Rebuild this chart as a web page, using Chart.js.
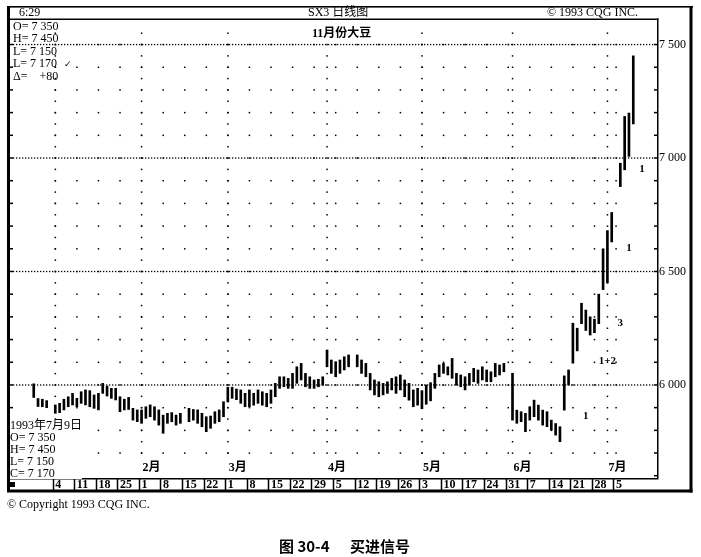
<!DOCTYPE html>
<html><head><meta charset="utf-8">
<script src="https://cdn.jsdelivr.net/npm/chart.js@4.4.1/dist/chart.umd.min.js"></script>
<style>
body{margin:0;background:#fff;}
#wrap{position:relative;width:701px;height:557px;overflow:hidden;font-family:"Liberation Serif","Noto Sans CJK SC",serif;color:#000;}
#c{position:absolute;left:0;top:0;width:701px;height:557px;}
.t{position:absolute;white-space:pre;font-size:12px;line-height:12px;}
.b{font-weight:bold;}
.cap{position:absolute;top:537px;font-family:"Noto Sans CJK SC",sans-serif;font-weight:bold;font-size:15px;line-height:18px;white-space:pre;}
.wb{background:#fff;}
.ann{position:absolute;transform:translate(-50%,-50%);font-size:11px;font-weight:bold;line-height:11px;white-space:pre;}
.mon{position:absolute;font-size:12px;line-height:12px;font-weight:bold;white-space:pre;}
</style></head>
<body><div id="wrap">
<canvas id="c" width="701" height="557"></canvas>
<div class="t" style="left:19px;top:6px">6:29</div>
<div class="t" style="left:308px;top:6px">SX3 日线图</div>
<div class="t" style="left:547px;top:6px">© 1993 CQG INC.</div>
<div class="t b" style="left:312px;top:27px">11月份大豆</div>
<div class="t" style="left:13px;top:20px">O= 7 350</div>
<div class="t" style="left:13px;top:32px">H= 7 450</div>
<div class="t" style="left:13px;top:45px">L= 7 150</div>
<div class="t" style="left:13px;top:57px">L= 7 170</div>
<div class="t" style="left:64px;top:58px;font-size:9px;font-family:'DejaVu Sans'">✓</div>
<div class="t" style="left:13px;top:70px">Δ=    +80</div>
<div id="binfo" class="t wb" style="left:10px;top:419px;line-height:12px">1993年7月9日
O= 7 350
H= 7 450
L= 7 150
C= 7 170</div>
<div class="t" style="left:7px;top:498px">© Copyright 1993 CQG INC.</div>
<div class="cap" style="left:279px">图 30-4</div>
<div class="cap" style="left:350px">买进信号</div>
</div>
<script>
// ---- data ----
const weekStarts = ['1992-12-21','1992-12-28','1993-01-04','1993-01-11','1993-01-18','1993-01-25',
  '1993-02-01','1993-02-08','1993-02-15','1993-02-22','1993-03-01','1993-03-08','1993-03-15',
  '1993-03-22','1993-03-29','1993-04-05','1993-04-12','1993-04-19','1993-04-26','1993-05-03',
  '1993-05-10','1993-05-17','1993-05-24','1993-05-31','1993-06-07','1993-06-14','1993-06-21',
  '1993-06-28','1993-07-05','1993-07-12'];
const weekLabels = ['','','4','11','18','25','1','8','15','22','1','8','15','22','29',
  '5','12','19','26','3','10','17','24','31','7','14','21','28','5',''];
const monthLabels = ['1月','2月','3月','4月','5月','6月','7月'];
const monthStarts = ['1993-01-04','1993-02-01','1993-03-01','1993-04-01','1993-05-03','1993-06-01','1993-07-01'];
const highs = [
  null,null,null,null,null,6005,5940,5937,5931,null,
  5912,5919,5937,5948,5963,5941,5970,5978,5975,5956,
  5963,6007,5995,5985,5985,5948,5937,5945,5897,5890,
  5890,5904,5912,5904,5890,5867,5875,5878,5867,5875,
  null,5897,5892,5890,5875,5860,5863,5882,5890,5926,
  5990,5990,5982,5978,5963,5978,5963,5978,5970,5963,
  5978,6007,6036,6036,6029,6051,6080,6095,6051,6036,
  6022,6025,6036,6154,6110,6102,6110,6124,6132,null,
  6132,6110,6095,6051,6022,6014,6007,6014,6029,6036,
  6044,6022,6007,5978,5985,5975,6000,6010,6051,6088,
  6095,6080,6117,6051,6044,6036,6051,6073,6066,6080,
  6066,6058,6095,6088,6095,null,6051,5889,5882,5875,
  5904,5933,5911,5889,5882,5845,5830,5816,6040,6066,
  6272,6250,6360,6330,6300,6290,6400,6600,6680,6760,
  null,6977,7183,7198,7450,null,null,null,null,null];
const lows = [
  null,null,null,null,null,5945,5905,5904,5900,null,
  5875,5878,5890,5904,5912,5904,5919,5912,5904,5897,
  5890,5963,5951,5941,5934,5882,5890,5892,5845,5838,
  5831,5853,5860,5845,5823,5787,5831,5838,5823,5831,
  null,5838,5845,5831,5816,5794,5809,5831,5838,5860,
  5925,5941,5935,5919,5904,5904,5911,5919,5911,5904,
  5919,5948,5985,5992,5985,5985,6007,6022,5992,5985,
  5985,5992,5999,6080,6051,6036,6051,6066,6080,null,
  6080,6051,6036,5978,5956,5948,5956,5963,5978,5963,
  5978,5948,5933,5904,5911,5895,5915,5930,5985,6036,
  6051,6044,6029,5999,5992,5978,5999,6014,6007,6022,
  6014,6014,6036,6044,6058,null,5845,5831,5838,5794,
  5845,5860,5845,5823,5816,5801,5779,5750,5889,6000,
  6096,6150,6270,6240,6220,6230,6270,6420,6450,6630,
  null,6874,6948,7007,7150,null,null,null,null,null];
const majorLevels = [6000, 6500, 7000, 7500];
const signalText = ['1','1+2','3','1','1'];
const signalDate = ['1993-06-24','1993-07-01','1993-07-06','1993-07-08','1993-07-13'];
const signalPrice = [5868, 6110, 6278, 6609, 6957];

// ---- build categories ----
function addDays(s, n){ const d = new Date(s + 'T12:00:00Z'); d.setUTCDate(d.getUTCDate() + n); return d.toISOString().slice(0,10); }
const days = [], dayTick = [];
weekStarts.forEach((w, wi) => { for (let k = 0; k < 5; k++) { days.push(addDays(w, k)); dayTick.push(k === 0 ? weekLabels[wi] : ''); } });
const monthIdx = monthStarts.map(d => days.indexOf(d));
const barData = days.map((d, i) => (highs[i] == null ? null : [lows[i], highs[i]]));

const fmt = v => String(v).replace(/(\d)(\d{3})$/, '$1 $2');

const decor = {
  id: 'decor',
  beforeDatasetsDraw(chart) {
    const {ctx, chartArea: a, scales: {x, y}} = chart;
    ctx.save();
    ctx.fillStyle = '#000';
    // dotted major lines
    majorLevels.forEach(v => {
      const py = y.getPixelForValue(v);
      for (let px = a.left + 3; px < a.right - 2; px += 3) ctx.fillRect(px, py - 0.6, 1.3, 1.3);
    });
    const levels = y.ticks.map(t => t.value).filter(v => v >= 5700 && v <= 7500);
    // weekly dot columns
    days.forEach((d, i) => {
      if (dayTick[i] === '') return;
      const px = x.getPixelForValue(i);
      levels.forEach(v => ctx.fillRect(px - 0.7, y.getPixelForValue(v) - 0.7, 1.5, 1.5));
    });
    // month columns (half levels too)
    monthIdx.forEach(i => {
      const px = x.getPixelForValue(i);
      levels.forEach(v => {
        ctx.fillRect(px - 0.7, y.getPixelForValue(v) - 0.7, 1.5, 1.5);
        if (v + 50 <= 7550) ctx.fillRect(px - 0.7, y.getPixelForValue(v + 50) - 0.7, 1.5, 1.5);
      });
    });
    // small ticks on left/right borders
    y.ticks.forEach(t => {
      if (t.value > 7550) return;
      const py = y.getPixelForValue(t.value);
      ctx.fillRect(a.left, py - 0.75, 3, 1.5);
      ctx.fillRect(a.right - 3, py - 0.75, 3, 1.5);
    });
    ctx.restore();
  },
  afterDraw(chart) {
    const {ctx, chartArea: a} = chart;
    ctx.save();
    ctx.fillStyle = '#000';
    ctx.fillRect(7, 6, 686, 1.6);            // outer top
    ctx.fillRect(7, 6, 3, 486);              // left thick
    ctx.fillRect(689.5, 6, 3, 486.5);        // outer right
    ctx.fillRect(7, 489.5, 685.5, 3);        // outer bottom
    ctx.fillRect(7, a.top - 1.5, a.right - 7 + 1.5, 1.5);  // header bottom / plot top
    ctx.fillRect(a.right, a.top - 1.5, 1.5, a.bottom - a.top + 1.5); // plot right
    ctx.fillRect(7, a.bottom, a.right - 7 + 1.5, 1.5);     // plot bottom
    ctx.fillRect(10, 482, 5, 5);             // square marker
    ctx.restore();
  }
};

const chart = new Chart(document.getElementById('c'), {
  type: 'bar',
  data: {
    labels: days,
    datasets: [{ data: barData, backgroundColor: '#000', borderWidth: 0, barThickness: 2 }]
  },
  options: {
    responsive: false,
    devicePixelRatio: 1,
    animation: false,
    events: [],
    layout: { padding: { left: 10, top: 20, right: 10, bottom: 66 } },
    plugins: { legend: { display: false }, tooltip: { enabled: false }, title: { display: false } },
    scales: {
      x: {
        type: 'category',
        offset: true,
        afterFit: s => { s.height = 13; },
        border: { display: false },
        grid: {
          offset: true,
          drawOnChartArea: false,
          drawTicks: true,
          tickLength: 13,
          tickWidth: 1.5,
          color: c => (c.type === 'tick' && dayTick[c.index] !== '') ? '#000' : 'rgba(0,0,0,0)'
        },
        ticks: {
          autoSkip: false, maxRotation: 0, minRotation: 0, align: 'start', padding: -13,
          color: '#000', font: { family: 'Liberation Serif', size: 12, weight: 'bold' },
          callback: (v, i) => dayTick[i]
        }
      },
      y: {
        type: 'linear',
        position: 'right',
        min: 5590, max: 7608,
        afterFit: s => { s.width = 34; },
        border: { display: false },
        grid: { display: false, drawTicks: false },
        ticks: {
          stepSize: 100, includeBounds: false, autoSkip: false, padding: 2,
          color: '#000', font: { family: 'Liberation Serif', size: 12 },
          callback: v => (v % 500 === 0 ? fmt(v) : '')
        }
      }
    }
  },
  plugins: [decor]
});

// month labels and signal annotations, placed through the chart scales
const wrap = document.getElementById('wrap');
const xs = chart.scales.x, ys = chart.scales.y;
monthLabels.forEach((m, k) => {
  const s = document.createElement('div');
  s.className = 'mon';
  s.textContent = m;
  s.style.left = (xs.getPixelForValue(monthIdx[k]) + 1) + 'px';
  s.style.top = (chart.chartArea.bottom - 17) + 'px';
  wrap.insertBefore(s, document.getElementById('binfo'));
});
signalText.forEach((t, k) => {
  const s = document.createElement('div');
  s.className = 'ann';
  s.textContent = t;
  s.style.left = xs.getPixelForValue(days.indexOf(signalDate[k])) + 'px';
  s.style.top = ys.getPixelForValue(signalPrice[k]) + 'px';
  wrap.appendChild(s);
});
</script>
</body></html>
